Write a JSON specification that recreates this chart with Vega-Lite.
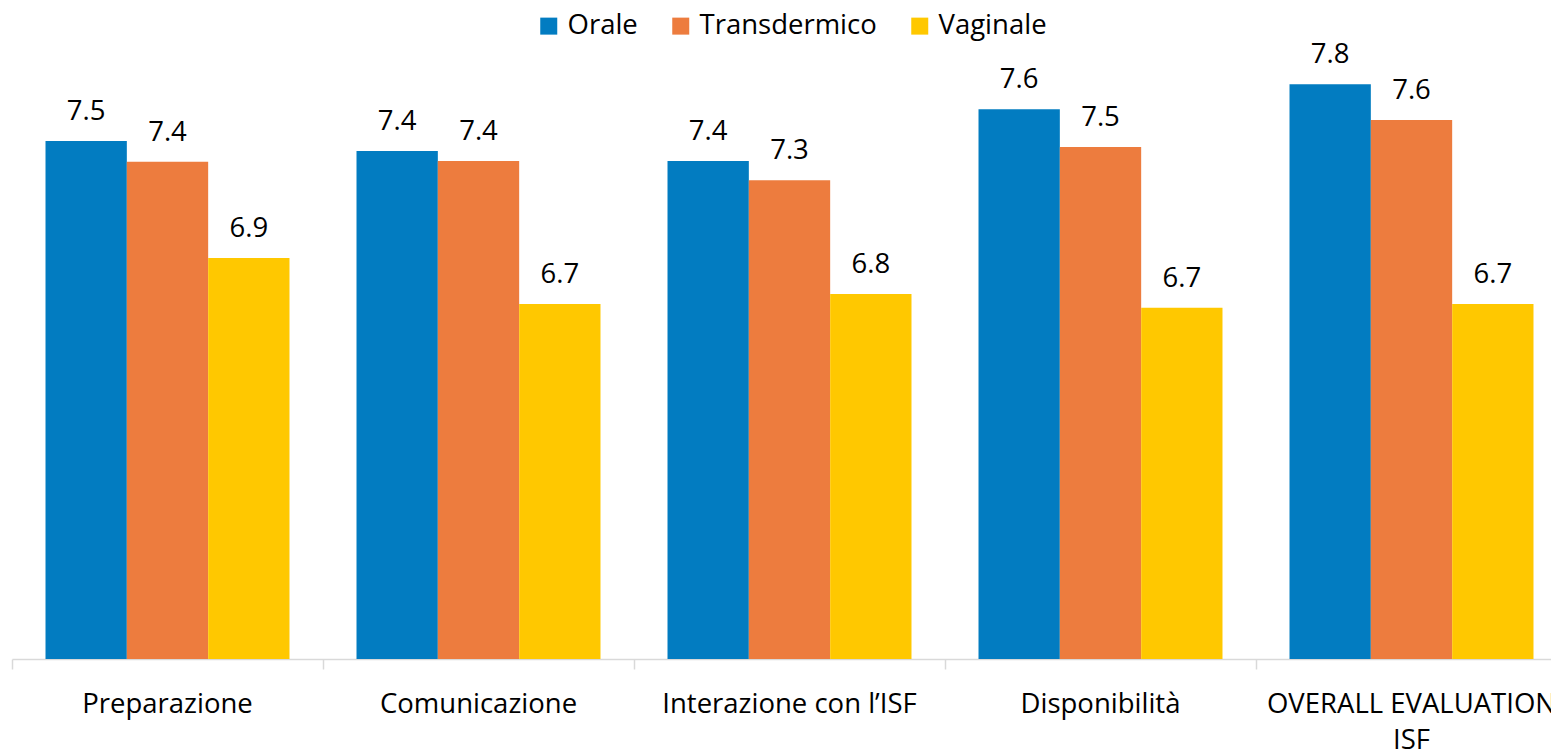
{
  "$schema": "https://vega.github.io/schema/vega-lite/v6.json",
  "autosize": "none",
  "width": 1539,
  "height": 659,
  "padding": {"left": 12, "top": 0, "right": 0, "bottom": 91},
  "background": "white",
  "config": {"view": {"stroke": null}, "font": "Open Sans"},
  "data": {"values": [
    {"cat": "Preparazione", "tipo": "Orale", "v": 7.491},
    {"cat": "Preparazione", "tipo": "Transdermico", "v": 7.394},
    {"cat": "Preparazione", "tipo": "Vaginale", "v": 6.944},
    {"cat": "Comunicazione", "tipo": "Orale", "v": 7.444},
    {"cat": "Comunicazione", "tipo": "Transdermico", "v": 7.397},
    {"cat": "Comunicazione", "tipo": "Vaginale", "v": 6.729},
    {"cat": "Interazione con l’ISF", "tipo": "Orale", "v": 7.397},
    {"cat": "Interazione con l’ISF", "tipo": "Transdermico", "v": 7.308},
    {"cat": "Interazione con l’ISF", "tipo": "Vaginale", "v": 6.776},
    {"cat": "Disponibilità", "tipo": "Orale", "v": 7.639},
    {"cat": "Disponibilità", "tipo": "Transdermico", "v": 7.463},
    {"cat": "Disponibilità", "tipo": "Vaginale", "v": 6.712},
    {"cat": "OVERALL EVALUATION ISF", "tipo": "Orale", "v": 7.756},
    {"cat": "OVERALL EVALUATION ISF", "tipo": "Transdermico", "v": 7.589},
    {"cat": "OVERALL EVALUATION ISF", "tipo": "Vaginale", "v": 6.729}
  ]},
  "encoding": {
    "x": {
      "field": "cat", "type": "nominal", "sort": null, "title": null,
      "scale": {"range": [0, 1555], "paddingInner": 0, "paddingOuter": 0},
      "axis": {
        "bandPosition": 0, "labelOffset": 0, "labelAngle": 0,
        "domainColor": "#d9d9d9", "domainWidth": 1.5, "tickColor": "#d9d9d9", "tickWidth": 1.5, "tickSize": 10,
        "labelFontSize": 27.5, "labelColor": "#000000", "labelPadding": 21, "labelLineHeight": 36,
        "labelOverlap": false, "labelBound": false, "labelFlush": false, "labelLimit": 0,
        "labelExpr": "datum.value == 'OVERALL EVALUATION ISF' ? ['OVERALL EVALUATION', 'ISF'] : datum.value"
      }
    },
    "xOffset": {"field": "tipo", "type": "nominal", "sort": ["Orale", "Transdermico", "Vaginale"], "scale": {"paddingInner": 0, "paddingOuter": 0.412}},
    "y": {"field": "v", "type": "quantitative", "scale": {"domain": [5.07, 8.15], "zero": false, "clamp": true}, "axis": null}
  },
  "layer": [
    {
      "mark": {"type": "bar"},
      "encoding": {
        "color": {
          "field": "tipo", "type": "nominal", "title": null,
          "sort": ["Orale", "Transdermico", "Vaginale"],
          "scale": {"domain": ["Orale", "Transdermico", "Vaginale"], "range": ["#027CC1", "#ED7C3E", "#FFC800"]},
          "legend": {
            "orient": "none", "legendX": 523, "legendY": 12, "direction": "horizontal",
            "symbolType": "square", "symbolSize": 289, "symbolStrokeWidth": 0, "symbolOpacity": 1,
            "labelFontSize": 27.5, "labelColor": "#000000", "labelOffset": 5, "columnPadding": 29, "padding": 0,
            "labelLimit": 0
          }
        }
      }
    },
    {
      "mark": {"type": "text", "dy": -21, "baseline": "alphabetic", "fontSize": 27.5, "color": "#000000"},
      "encoding": {"text": {"field": "v", "type": "quantitative", "format": ".1f"}}
    }
  ]
}
